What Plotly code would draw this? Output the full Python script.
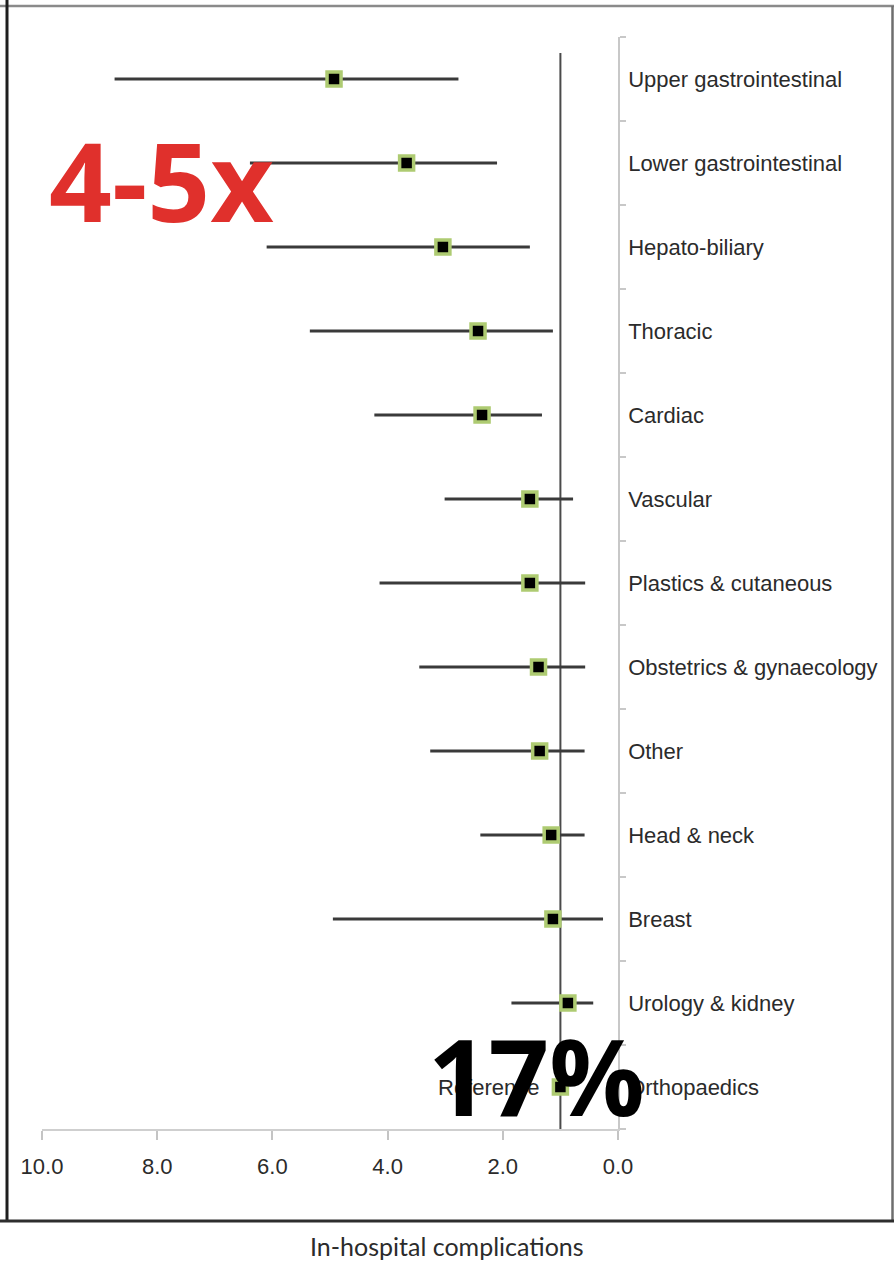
import plotly.graph_objects as go

# Surgical specialty groups, top to bottom
specialties = [
    "Upper gastrointestinal", "Lower gastrointestinal", "Hepato-biliary",
    "Thoracic", "Cardiac", "Vascular", "Plastics & cutaneous",
    "Obstetrics & gynaecology", "Other", "Head & neck", "Breast",
    "Urology & kidney", "Orthopaedics",
]
# Odds ratio point estimates and 95% confidence limits
odds_ratio = [4.93, 3.67, 3.04, 2.43, 2.36, 1.53, 1.53, 1.38, 1.36, 1.16, 1.13, 0.87, 1.00]
ci_low = [2.77, 2.10, 1.53, 1.13, 1.32, 0.78, 0.57, 0.57, 0.58, 0.58, 0.26, 0.43, 1.00]
ci_high = [8.74, 6.39, 6.10, 5.35, 4.23, 3.01, 4.14, 3.45, 3.26, 2.39, 4.95, 1.85, 1.00]
reference_value = 1.0
reference_group = "Orthopaedics"
x_ticks = [0, 2, 4, 6, 8, 10]

W, H = 894, 1264
ML, MR, MT, MB = 42, 276, 37, 135
PW, PH = W - ML - MR, H - MT - MB


def px(x):
    return (x - ML) / PW


def py(y):
    return (H - MB - y) / PH


label_font = dict(family="Liberation Sans, Arial, sans-serif", size=22, color="#2b2b2b")

fig = go.Figure()
fig.add_trace(go.Scatter(
    x=odds_ratio,
    y=specialties,
    mode="markers",
    marker=dict(symbol="square", size=14, color="#000000",
                line=dict(color="#aecb72", width=3.5)),
    error_x=dict(
        type="data", symmetric=False,
        array=[h - v for h, v in zip(ci_high, odds_ratio)],
        arrayminus=[v - l for v, l in zip(odds_ratio, ci_low)],
        color="#3a3a3a", thickness=3, width=0,
    ),
    showlegend=False,
    hoverinfo="skip",
))

shapes = [
    # line of no effect
    dict(type="line", xref="x", yref="paper", x0=reference_value, x1=reference_value,
         y0=0, y1=py(53), line=dict(color="#4a4a4a", width=2), layer="below"),
    # outer frame
    dict(type="line", xref="paper", yref="paper", x0=px(0), x1=px(W), y0=py(6), y1=py(6),
         line=dict(color="#8a8a8a", width=2.5)),
    dict(type="line", xref="paper", yref="paper", x0=px(7), x1=px(7), y0=py(0), y1=py(1221),
         line=dict(color="#1e1e1e", width=3)),
    dict(type="line", xref="paper", yref="paper", x0=px(892.5), x1=px(892.5), y0=py(6), y1=py(1221),
         line=dict(color="#6e6e6e", width=2.5)),
    dict(type="line", xref="paper", yref="paper", x0=px(0), x1=px(W), y0=py(1221), y1=py(1221),
         line=dict(color="#2e2e2e", width=3)),
]

annotations = [
    dict(text="Reference", x=reference_value, y=reference_group, xref="x", yref="y",
         xanchor="right", yanchor="middle", xshift=-18, showarrow=False, font=label_font),
    dict(text="In-hospital complications", x=px(447), y=py(1246), xref="paper", yref="paper",
         xanchor="center", yanchor="middle", showarrow=False,
         font=dict(family="Lato, sans-serif", size=25, color="#2b2b2b")),
    dict(text="<b>4-5x</b>", x=px(47), y=py(179), xref="paper", yref="paper",
         xanchor="left", yanchor="middle", showarrow=False,
         font=dict(family="Open Sans, sans-serif", size=110, color="#e0302c")),
    dict(text="<b>17%</b>", x=px(426), y=py(1075), xref="paper", yref="paper",
         xanchor="left", yanchor="middle", showarrow=False,
         font=dict(family="Open Sans, sans-serif", size=106, color="#000000")),
]

fig.update_layout(
    width=W, height=H,
    margin=dict(l=ML, r=MR, t=MT, b=MB, pad=0),
    paper_bgcolor="white", plot_bgcolor="white",
    shapes=shapes, annotations=annotations,
    xaxis=dict(
        range=[10, 0], tickvals=x_ticks, tickformat=".1f",
        showgrid=False, zeroline=False,
        showline=True, linecolor="#cfcfcf", linewidth=2,
        ticks="outside", ticklen=9, tickwidth=1.5, tickcolor="#c4c4c4",
        tickfont=label_font, ticklabelstandoff=8,
    ),
    yaxis=dict(
        type="category", categoryorder="array", categoryarray=specialties[::-1],
        range=[-0.5, len(specialties) - 0.5],
        side="right", showgrid=False, zeroline=False,
        showline=True, linecolor="#c8c8c8", linewidth=1.5,
        ticks="outside", tickson="boundaries", ticklen=6, tickwidth=1.5, tickcolor="#c8c8c8",
        tickfont=label_font, ticklabelstandoff=4,
    ),
)

fig.write_html("out.html")
